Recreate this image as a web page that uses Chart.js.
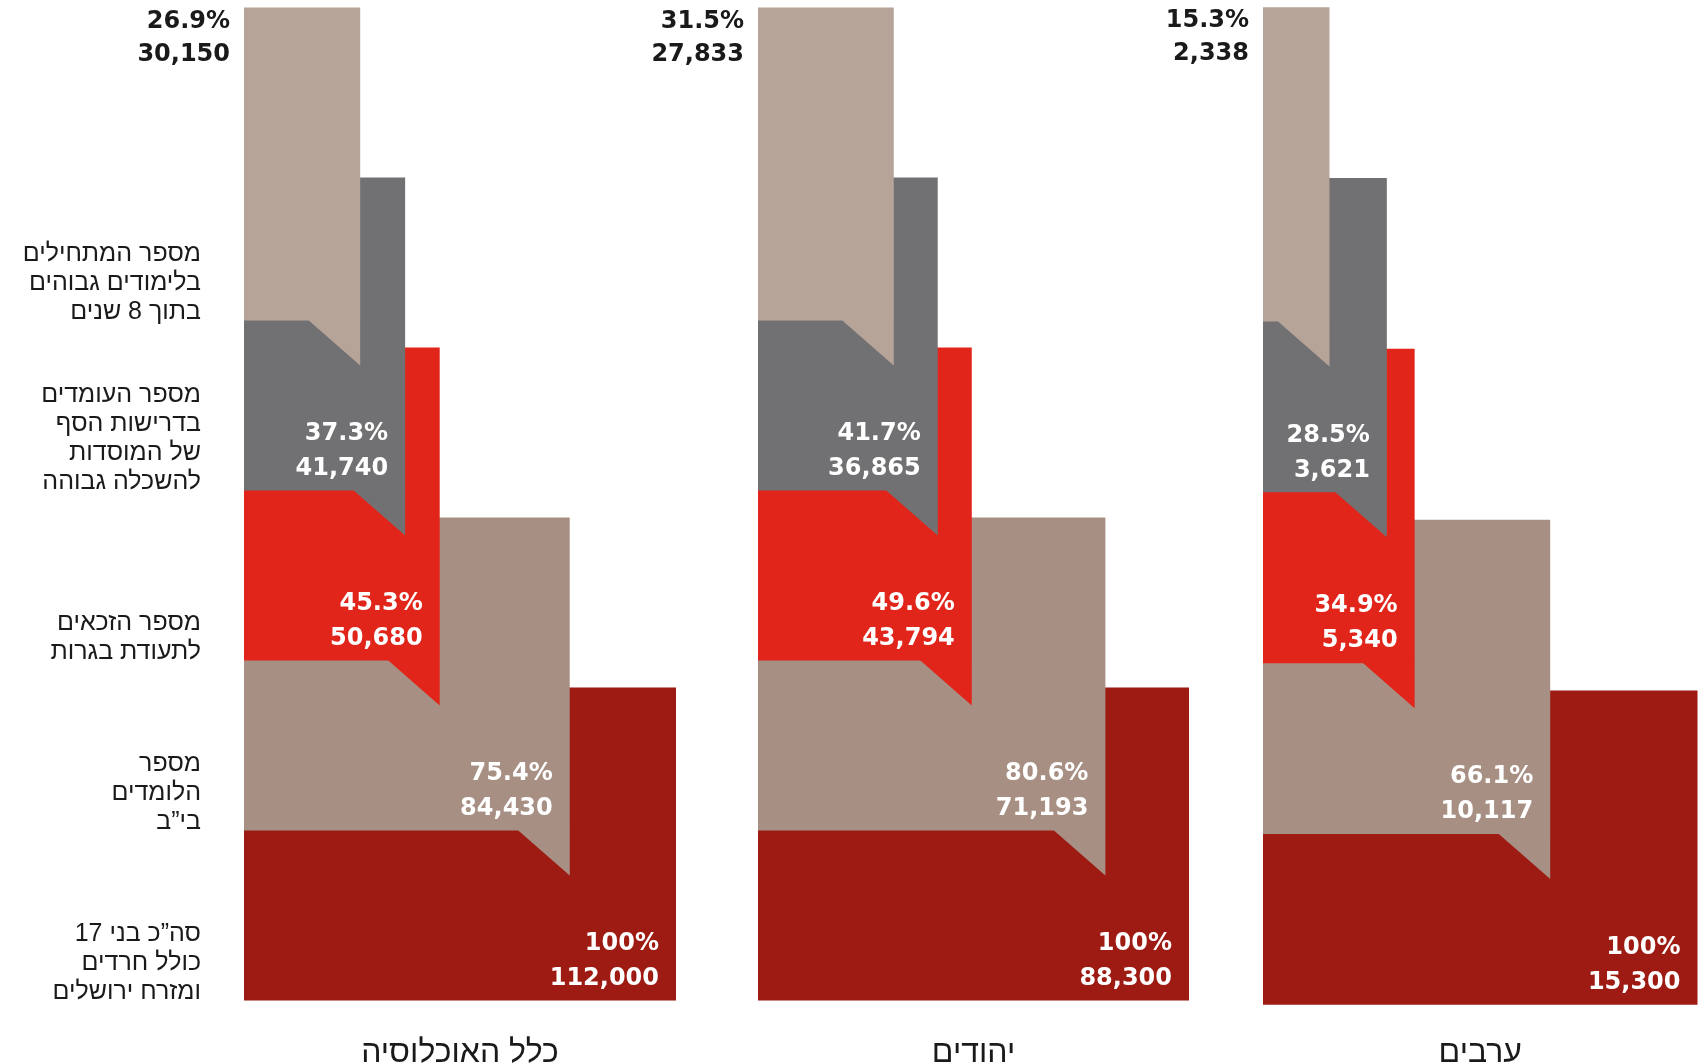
<!DOCTYPE html>
<html lang="he">
<head>
<meta charset="utf-8">
<title>Stages</title>
<script src="https://cdn.jsdelivr.net/npm/chart.js@4.4.1/dist/chart.umd.min.js"></script>
<style>
  html, body { margin: 0; padding: 0; background: #fff; }
  body { width: 1704px; height: 1063px; position: relative; overflow: hidden; }
  canvas { position: absolute; top: 0; }
</style>
</head>
<body>
<canvas id="chartAll" dir="rtl" width="700" height="1063" style="left:0"></canvas>
<canvas id="chartJews" dir="rtl" width="600" height="1063" style="left:620px"></canvas>
<canvas id="chartArabs" dir="rtl" width="574" height="1063" style="left:1130px"></canvas>
<script>
// stages, listed from the top step (last stage) down to the whole cohort
const stageLabels = [
    ['מספר המתחילים', 'בלימודים גבוהים', 'בתוך 8 שנים'],
    ['מספר העומדים', 'בדרישות הסף', 'של המוסדות', 'להשכלה גבוהה'],
    ['מספר הזכאים', 'לתעודת בגרות'],
    ['מספר', 'הלומדים', 'בי”ב'],
    ['סה”כ בני 17', 'כולל חרדים', 'ומזרח ירושלים'],
];
const stageColors = ['#b7a498', '#717174', '#e1251a', '#a79083', '#9d1b13'];

const groupTitles = ['כלל האוכלוסיה', 'יהודים', 'ערבים'];

const allPct = [26.9, 37.3, 45.3, 75.4, 100];
const allCount = [30150, 41740, 50680, 84430, 112000];

const jewsPct = [31.5, 41.7, 49.6, 80.6, 100];
const jewsCount = [27833, 36865, 43794, 71193, 88300];

const arabsPct = [15.3, 28.5, 34.9, 66.1, 100];
const arabsCount = [2338, 3621, 5340, 10117, 15300];

const TAIL_W = 52, TAIL_H = 45;
const VALUE_FONT = 'bold 24px "DejaVu Sans"';
const LABEL_FONT = 'Liberation Sans';

// draws the speech-bubble tails and the value labels on each step
const stepPlugin = {
    id: 'steps',
    afterDatasetsDraw(chart) {
        const { ctx } = chart;
        const ds = chart.data.datasets[0];
        const bars = chart.getDatasetMeta(0).data;
        const top = bars.length - 1;
        ctx.save();

        bars.forEach((bar, i) => {
            if (i === 0) return; // the widest step has nothing below it
            const bottom = bar.y + bar.height / 2;
            ctx.fillStyle = ds.backgroundColor[i];
            ctx.beginPath();
            ctx.moveTo(bar.x - TAIL_W, bottom - 0.5);
            ctx.lineTo(bar.x, bottom - 0.5);
            ctx.lineTo(bar.x, bottom + TAIL_H);
            ctx.closePath();
            ctx.fill();
        });

        ctx.direction = 'ltr';
        ctx.textAlign = 'right';
        ctx.textBaseline = 'middle';
        ctx.font = VALUE_FONT;
        bars.forEach((bar, i) => {
            const pct = ds.data[i] + '%';
            const count = ds.counts[i].toLocaleString('en-US');
            const barTop = bar.y - bar.height / 2;
            const bottom = bar.y + bar.height / 2;
            if (i === top) {
                ctx.fillStyle = '#1a1a1a';
                ctx.fillText(pct, bar.base - 14, barTop + 14);
                ctx.fillText(count, bar.base - 14, barTop + 47);
            } else {
                ctx.fillStyle = '#ffffff';
                ctx.fillText(pct, bar.x - 17, bottom - 57);
                ctx.fillText(count, bar.x - 17, bottom - 22);
            }
        });
        ctx.restore();
    }
};

function makePanel(id, title, pct, counts, layout) {
    // bottom step first so every narrower step is painted over the one below
    const labels = stageLabels.slice().reverse();
    new Chart(document.getElementById(id), {
        type: 'bar',
        data: {
            labels,
            datasets: [{
                data: pct.slice().reverse(),
                counts: counts.slice().reverse(),
                backgroundColor: stageColors.slice().reverse(),
                borderWidth: 0,
                categoryPercentage: 1,
                barPercentage: 1.84,
                clip: false,
            }]
        },
        options: {
            indexAxis: 'y',
            responsive: false,
            animation: false,
            events: [],
            layout: { padding: { top: layout.top, left: layout.left, right: layout.right, bottom: 0 } },
            plugins: { legend: { display: false }, tooltip: { enabled: false } },
            scales: {
                x: {
                    min: 0, max: 100,
                    grid: { display: false, drawTicks: false },
                    border: { display: false },
                    ticks: { display: false },
                    title: {
                        display: true, text: title, color: '#1a1a1a',
                        font: { family: LABEL_FONT, size: 32, lineHeight: 0.6 },
                        padding: { top: 0, bottom: 0 }
                    },
                    afterFit: s => { s.height = layout.axisHeight; }
                },
                y: {
                    display: layout.showLabels,
                    reverse: true,
                    grid: { display: false, drawTicks: false },
                    border: { display: false },
                    ticks: {
                        color: '#1a1a1a',
                        padding: 43,
                        labelOffset: 105,
                        font: { family: LABEL_FONT, size: 25, lineHeight: 1.16 },
                        // pad to four lines so each block sits on its step's bottom edge
                        callback(value) {
                            const lines = this.getLabelForValue(value);
                            return Array(4 - lines.length).fill('').concat(lines);
                        }
                    },
                    afterFit: s => {
                        if (!layout.showLabels) return;
                        s.width = layout.axisWidth;
                        // labels are shifted down, so they need no room above/below the area
                        s.paddingTop = 0;
                        s.paddingBottom = 0;
                    }
                }
            }
        },
        plugins: [stepPlugin]
    });
}

makePanel('chartAll', groupTitles[0], allPct, allCount,
    { top: 79, left: 0, right: 24, axisHeight: 134, showLabels: true, axisWidth: 244 });
makePanel('chartJews', groupTitles[1], jewsPct, jewsCount,
    { top: 79, left: 138, right: 31, axisHeight: 134, showLabels: false });
makePanel('chartArabs', groupTitles[2], arabsPct, arabsCount,
    { top: 79, left: 133, right: 6.5, axisHeight: 130, showLabels: false });
</script>
</body>
</html>
